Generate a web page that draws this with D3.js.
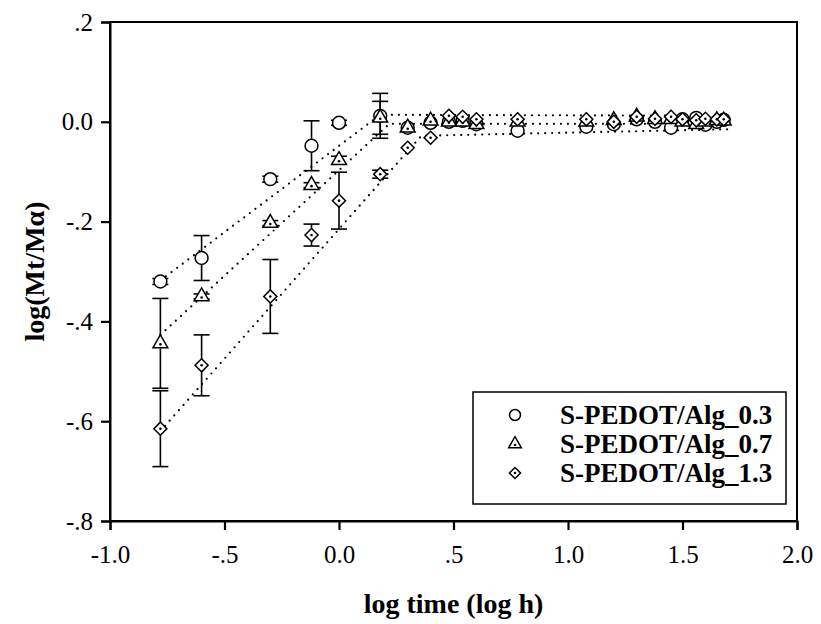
<!DOCTYPE html>
<html>
<head>
<meta charset="utf-8">
<script src="https://cdn.jsdelivr.net/npm/d3@7"></script>
<style>
  html, body { margin: 0; padding: 0; background: #fff; }
  svg { display: block; }
  svg text { font-family: "Liberation Serif", "Times New Roman", serif; }
</style>
</head>
<body>
<div id="chart"></div>
<script>
// Swelling kinetics, log(Mt/Ma) vs log time, three alginate loadings.

const seriesNames = ["S-PEDOT/Alg_0.3", "S-PEDOT/Alg_0.7", "S-PEDOT/Alg_1.3"];
const seriesSymbols = ["circle", "triangle", "diamond"];

// log time (log h), shared by the three series
const logTime = [-0.78, -0.6, -0.3, -0.12, 0, 0.18, 0.3, 0.4, 0.48, 0.54, 0.6,
                 0.78, 1.08, 1.2, 1.3, 1.38, 1.45, 1.5, 1.56, 1.6, 1.65, 1.68];

const alg03 = [-0.32, -0.273, -0.115, -0.048, -0.002, 0.012, -0.012, -0.002, 0.0, 0.002, -0.005,
               -0.018, -0.01, -0.005, 0.005, 0.0, -0.012, 0.005, 0.008, -0.006, 0.0, 0.004];
const alg03Err = [0.006, 0.045, 0.006, 0.05, 0.005, 0.045, 0, 0, 0, 0, 0,
                  0, 0, 0, 0, 0, 0, 0, 0, 0, 0, 0];

const alg07 = [-0.444, -0.35, -0.203, -0.127, -0.077, 0.008, -0.012, 0.002, 0.0, 0.0, -0.005,
               0.0, 0.0, 0.003, 0.01, 0.005, 0.005, 0.0, -0.005, 0.0, 0.003, 0.002];
const alg07Err = [0.09, 0.005, 0.005, 0.005, 0.008, 0.033, 0, 0, 0, 0, 0,
                  0, 0, 0, 0, 0, 0, 0, 0, 0, 0, 0];

const alg13 = [-0.615, -0.488, -0.35, -0.227, -0.158, -0.105, -0.052, -0.032, 0.012, 0.01, 0.005,
               0.005, 0.005, 0.0, 0.01, 0.006, 0.01, 0.005, 0.003, 0.006, 0.005, 0.005];
const alg13Err = [0.076, 0.061, 0.074, 0.022, 0.057, 0.008, 0, 0, 0, 0, 0,
                  0, 0, 0, 0, 0, 0, 0, 0, 0, 0, 0];

// dotted fit lines
const fit03 = [[-0.78, -0.318], [0.18, 0.014], [1.7, 0.012]];
const fit07 = [[-0.78, -0.427], [0.22, -0.004], [1.7, -0.004]];
const fit13 = [[-0.78, -0.62], [0.36, -0.028], [1.7, -0.015]];

const xTicks = [-1.0, -0.5, 0.0, 0.5, 1.0, 1.5, 2.0];
const yTicks = [0.2, 0.0, -0.2, -0.4, -0.6, -0.8];

const series = [
  { name: seriesNames[0], symbol: seriesSymbols[0], y: alg03, err: alg03Err, fit: fit03 },
  { name: seriesNames[1], symbol: seriesSymbols[1], y: alg07, err: alg07Err, fit: fit07 },
  { name: seriesNames[2], symbol: seriesSymbols[2], y: alg13, err: alg13Err, fit: fit13 }
];

const W = 821, H = 624;
const margin = { top: 22, right: 24, bottom: 103, left: 110 };
const serif = "Liberation Serif, Times New Roman, serif";

const svg = d3.select("#chart").append("svg")
  .attr("width", W).attr("height", H).attr("viewBox", `0 0 ${W} ${H}`);

const x = d3.scaleLinear().domain([-1, 2]).range([margin.left, W - margin.right]);
const y = d3.scaleLinear().domain([-0.8, 0.2]).range([H - margin.bottom, margin.top]);

// tick formatting like "-.5", "0.0", ".2", "-1.0"
function fmt(v) {
  if (Math.abs(v) < 1e-9) return "0.0";
  const s = Math.abs(v).toFixed(1);
  return (v < 0 ? "-" : "") + (Math.abs(v) < 1 ? s.slice(1) : s);
}

// frame
svg.append("rect")
  .attr("x", x(-1)).attr("y", y(0.2))
  .attr("width", x(2) - x(-1)).attr("height", y(-0.8) - y(0.2))
  .attr("fill", "none").attr("stroke", "#000").attr("stroke-width", 2);

const gX = svg.append("g").attr("transform", `translate(0,${y(-0.8)})`)
  .call(d3.axisBottom(x).tickValues(xTicks).tickFormat(fmt).tickSize(9).tickPadding(15));
const gY = svg.append("g").attr("transform", `translate(${x(-1)},0)`)
  .call(d3.axisLeft(y).tickValues(yTicks).tickFormat(fmt).tickSize(9).tickPadding(8));
[gX, gY].forEach(g => {
  g.attr("font-family", serif);
  g.select(".domain").attr("stroke-width", 2);
  g.selectAll(".tick line").attr("stroke-width", 2.2);
  g.selectAll(".tick text").attr("font-family", serif).attr("font-size", 25).attr("fill", "#000");
});

// axis titles
svg.append("text")
  .attr("x", (x(-1) + x(2)) / 2).attr("y", 613)
  .attr("text-anchor", "middle").attr("font-family", serif)
  .attr("font-size", 28).attr("font-weight", "bold")
  .text("log time (log h)");
svg.append("text")
  .attr("transform", `translate(44,${(y(0.2) + y(-0.8)) / 2}) rotate(-90)`)
  .attr("text-anchor", "middle").attr("font-family", serif)
  .attr("font-size", 28).attr("font-weight", "bold")
  .text("log(Mt/M\u03b1)");

// fit lines
const line = d3.line().x(d => x(d[0])).y(d => y(d[1]));
svg.append("g").selectAll("path.fit").data(series).join("path")
  .attr("class", "fit")
  .attr("d", d => line(d.fit))
  .attr("fill", "none").attr("stroke", "#000").attr("stroke-width", 2.2)
  .attr("stroke-linecap", "round").attr("stroke-dasharray", "0 7");

// error bars
const capW = 8;
const gErr = svg.append("g");
series.forEach(s => {
  logTime.forEach((t, i) => {
    const e = s.err[i];
    if (!e) return;
    const g = gErr.append("g").attr("stroke", "#000").attr("stroke-width", 1.6);
    g.append("line").attr("x1", x(t)).attr("x2", x(t)).attr("y1", y(s.y[i] + e)).attr("y2", y(s.y[i] - e));
    g.append("line").attr("x1", x(t) - capW).attr("x2", x(t) + capW).attr("y1", y(s.y[i] + e)).attr("y2", y(s.y[i] + e));
    g.append("line").attr("x1", x(t) - capW).attr("x2", x(t) + capW).attr("y1", y(s.y[i] - e)).attr("y2", y(s.y[i] - e));
  });
});

// markers
const symbolType = { circle: d3.symbolCircle, triangle: d3.symbolTriangle, diamond: d3.symbolSquare };
const symbolSize = { circle: 130, triangle: 95, diamond: 85 };
function drawMarker(g, kind, cx, cy, scale = 1) {
  g.append("path")
    .attr("d", d3.symbol().type(symbolType[kind]).size(symbolSize[kind] * scale * scale)())
    .attr("transform", `translate(${cx},${cy})` + (kind === "diamond" ? " rotate(45)" : ""))
    .attr("fill", "#fff").attr("stroke", "#000").attr("stroke-width", 1.5);
  if (kind !== "circle") {
    g.append("circle").attr("cx", cx).attr("cy", cy + (kind === "triangle" ? 1 : 0)).attr("r", 1.3).attr("fill", "#000");
  }
}
const gPts = svg.append("g");
series.forEach(s => {
  logTime.forEach((t, i) => drawMarker(gPts, s.symbol, x(t), y(s.y[i])));
});

// legend
const lg = svg.append("g").attr("transform", "translate(473,392)");
lg.append("rect").attr("width", 313).attr("height", 112)
  .attr("fill", "#fff").attr("stroke", "#000").attr("stroke-width", 1.5);
series.forEach((s, i) => {
  const yy = 23 + i * 29;
  drawMarker(lg, s.symbol, 42, yy, 0.85);
  lg.append("text").attr("x", 87).attr("y", yy).attr("dy", "0.35em")
    .attr("font-family", serif)
    .attr("font-size", 27).attr("font-weight", "bold").text(s.name);
});
</script>
</body>
</html>
